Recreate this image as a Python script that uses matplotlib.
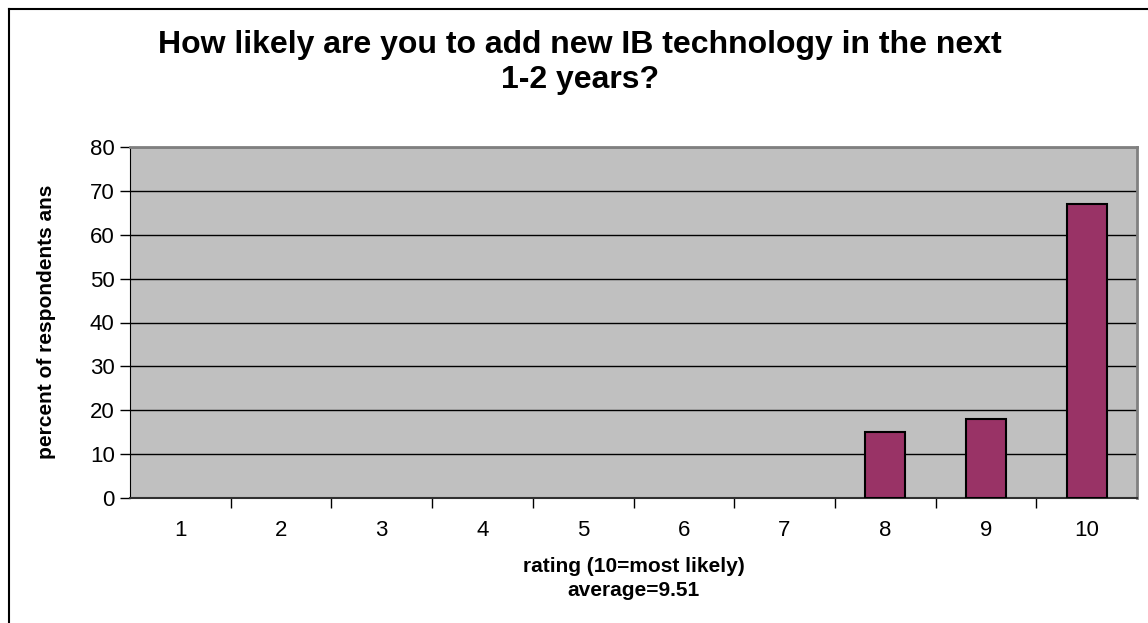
import matplotlib.pyplot as plt
import numpy as np
from matplotlib.lines import Line2D

plt.rcParams['font.family'] = ['Liberation Sans', 'DejaVu Sans']

# data
ratings = [1, 2, 3, 4, 5, 6, 7, 8, 9, 10]
percent = [0, 0, 0, 0, 0, 0, 0, 15, 18, 67]
yticks = [0, 10, 20, 30, 40, 50, 60, 70, 80]

fig = plt.figure(figsize=(11.48, 6.23), dpi=100)
ax = fig.add_axes([130/1148, 1-498/623, (1137-130)/1148, (498-147)/623])
ax.set_facecolor('#C0C0C0')

edges = ['black' if v > 0 else 'none' for v in percent]
ax.bar(ratings, percent, width=0.4, color='#993366', edgecolor=edges, linewidth=1.5, zorder=3)

ax.set_xlim(0.5, 10.5)
ax.set_ylim(0, 80)
ax.set_yticks(yticks)
ax.yaxis.grid(True, color='black', linewidth=1, zorder=1)
ax.set_axisbelow(True)

ax.set_xticks(ratings)
ax.set_xticks(np.arange(1.5, 10.5, 1), minor=True)
ax.tick_params(axis='x', which='major', length=0, pad=16, labelsize=16)
ax.tick_params(axis='x', which='minor', length=7, width=1, direction='out')
ax.tick_params(axis='y', length=7, width=1, direction='out', labelsize=16, pad=4)

for s in ['top', 'right']:
    ax.spines[s].set_color('#808080')
    ax.spines[s].set_linewidth(2)
ax.spines['left'].set_color('black')
ax.spines['bottom'].set_color('#303030')
ax.spines['bottom'].set_linewidth(1.5)

fig.text(580/1148, 1-45/623, 'How likely are you to add new IB technology in the next',
         ha='center', va='center', fontsize=23, fontweight='bold')
fig.text(580/1148, 1-80/623, '1-2 years?',
         ha='center', va='center', fontsize=23, fontweight='bold')
fig.text(634/1148, 1-566/623, 'rating (10=most likely)',
         ha='center', va='center', fontsize=15, fontweight='bold')
fig.text(634/1148, 1-590/623, 'average=9.51',
         ha='center', va='center', fontsize=15, fontweight='bold')
fig.text(47/1148, 1-322/623, 'percent of respondents ans', rotation=90,
         ha='center', va='center', fontsize=15, fontweight='bold')

# chart border (left and top visible)
fig.add_artist(Line2D([9/1148, 9/1148], [0, 1-9/623], color='black', linewidth=1.5))
fig.add_artist(Line2D([9/1148, 1], [1-9/623, 1-9/623], color='black', linewidth=1.5))

fig.savefig('out.png', dpi=100)
